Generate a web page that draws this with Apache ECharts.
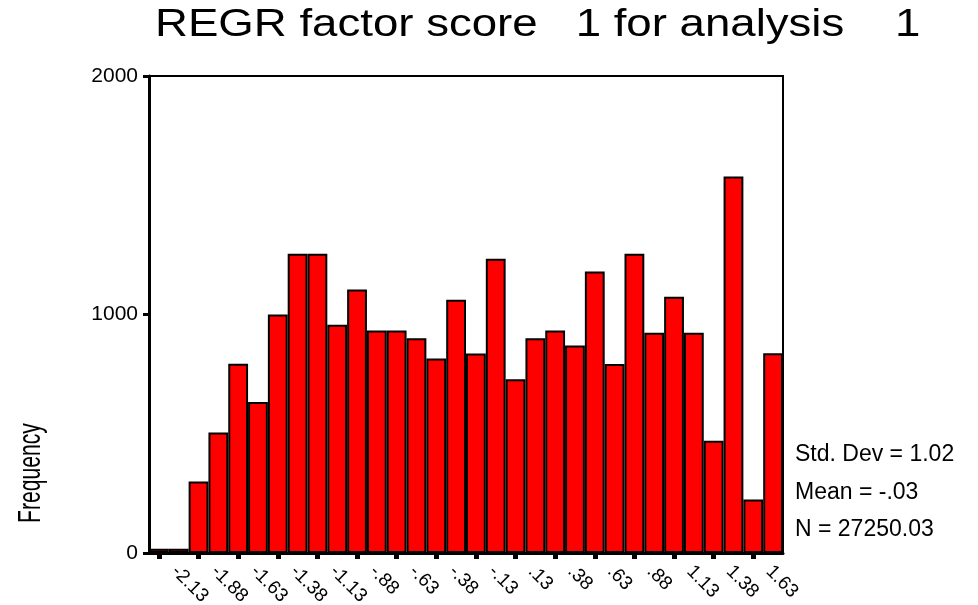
<!DOCTYPE html>
<html>
<head>
<meta charset="utf-8">
<script src="https://cdn.jsdelivr.net/npm/echarts@6/dist/echarts.min.js"></script>
<style>
    html, body { margin: 0; padding: 0; background: #fff; }
    #chart { width: 978px; height: 605px; }
</style>
</head>
<body>
<div id="chart"></div>
<script>
// 直方图数据
const tickLabels = ['-2.13', '-1.88', '-1.63', '-1.38', '-1.13', '-.88', '-.63', '-.38',
    '-.13', '.13', '.38', '.63', '.88', '1.13', '1.38', '1.63'];
const frequency = [18, 18, 300, 505, 794, 633, 1000, 1255, 1255, 957, 1105, 933, 933, 900, 815, 1062,
    837, 1234, 729, 900, 933, 870, 1180, 792, 1255, 923, 1074, 923, 471, 1579, 224, 838];
const yTicks = [0, 1000, 2000];
const statsLines = ['Std. Dev = 1.02', 'Mean = -.03', 'N = 27250.03'];
const titleText = 'REGR factor score   1 for analysis    1';

const FONT = 'Liberation Sans, Arial, sans-serif';

const chart = echarts.init(document.getElementById('chart'));

// 每两个柱子一个刻度
const everyOther = (idx) => idx % 2 === 0;

const option = {
    animation: false,
    backgroundColor: '#fff',
    grid: {
        left: 149, right: 195, top: 76, bottom: 52,
        containLabel: false,
        outerBoundsMode: 'none',
        show: true, borderColor: '#000', borderWidth: 2
    },
    xAxis: {
        type: 'category',
        data: frequency.map((_, i) => String(i)),
        axisLine: { lineStyle: { color: '#000', width: 3 } },
        axisTick: {
            show: true,
            alignWithLabel: true,
            interval: everyOther,
            length: 6,
            lineStyle: { color: '#000', width: 5 }
        },
        axisLabel: {
            interval: everyOther,
            rotate: -45,
            margin: 0,
            padding: [0, 0, 0, 22],
            fontFamily: FONT,
            fontSize: 19,
            color: '#000',
            formatter: (v, idx) => tickLabels[idx / 2]
        }
    },
    yAxis: {
        type: 'value',
        min: yTicks[0],
        max: yTicks[yTicks.length - 1],
        interval: 1000,
        splitLine: { show: false },
        axisLine: { show: true, lineStyle: { color: '#000', width: 3 } },
        axisTick: { show: true, length: 6, lineStyle: { color: '#000', width: 3 } },
        axisLabel: {
            margin: 11, fontFamily: FONT, fontSize: 21, color: '#000',
            formatter: (v) => String(v)
        }
    },
    series: [{
        type: 'bar',
        data: frequency,
        barCategoryGap: '0%',
        itemStyle: { color: '#ff0000', borderColor: '#000', borderWidth: 2 }
    }],
    graphic: [
        {
            type: 'text',
            x: 155, y: 7,
            scaleX: 1.2,
            style: {
                text: titleText, fontFamily: FONT, fontSize: 38, fill: '#000',
                align: 'left', verticalAlign: 'top'
            }
        },
        {
            type: 'text',
            x: 31, y: 473,
            rotation: Math.PI / 2,
            scaleX: 0.66,
            style: {
                text: 'Frequency', fontFamily: FONT, fontSize: 32, fill: '#000',
                align: 'center', verticalAlign: 'middle'
            }
        }
    ].concat(statsLines.map((t, i) => ({
        type: 'text',
        x: 795, y: 455 + i * 37.5,
        style: {
            text: t, fontFamily: FONT, fontSize: 23, fill: '#000',
            align: 'left', verticalAlign: 'middle'
        }
    })))
};

chart.setOption(option);

window.addEventListener('resize', () => {
    chart.resize();
});
</script>
</body>
</html>
